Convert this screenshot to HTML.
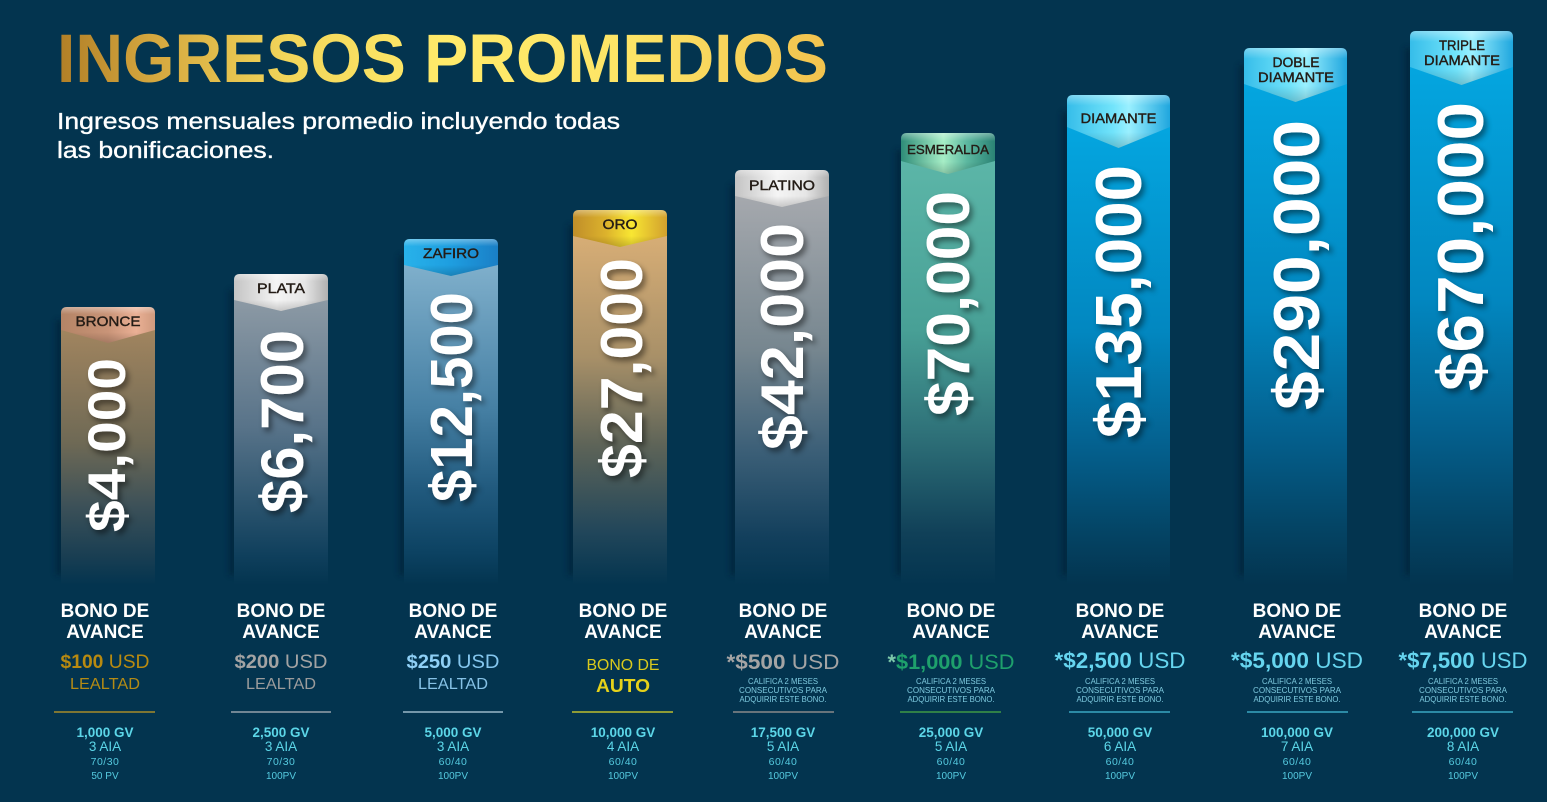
<!DOCTYPE html>
<html><head><meta charset="utf-8"><style>
html,body{margin:0;padding:0;background:#03344f;}
svg{display:block;}
text{font-family:"Liberation Sans",Arial,sans-serif;}
</style></head><body>
<svg width="1547" height="802" viewBox="0 0 1547 802" xmlns="http://www.w3.org/2000/svg">
<defs>
<linearGradient id="gold" gradientUnits="userSpaceOnUse" x1="57" y1="0" x2="828" y2="0">
<stop offset="0" stop-color="#b07e26"/><stop offset="0.12" stop-color="#d4a63e"/><stop offset="0.3" stop-color="#f2d65a"/><stop offset="0.5" stop-color="#ffea6a"/><stop offset="0.75" stop-color="#fde466"/><stop offset="1" stop-color="#f1c24e"/>
</linearGradient>
<filter id="sh" x="-30%" y="-30%" width="160%" height="160%"><feDropShadow dx="3" dy="4" stdDeviation="3" flood-color="#000" flood-opacity="0.45"/></filter>
<filter id="bl" x="-100%" y="-10%" width="300%" height="120%"><feGaussianBlur stdDeviation="3"/></filter>
<linearGradient id="gloss" x1="0" y1="0" x2="0" y2="1"><stop offset="0" stop-color="#fff" stop-opacity="0.35"/><stop offset="0.2" stop-color="#fff" stop-opacity="0"/><stop offset="0.7" stop-color="#000" stop-opacity="0"/><stop offset="1" stop-color="#000" stop-opacity="0.18"/></linearGradient>
<linearGradient id="b1" x1="0" y1="0" x2="0" y2="1"><stop offset="0" stop-color="#a2855f"/><stop offset="0.45" stop-color="#6e6955"/><stop offset="0.7" stop-color="#3b5058"/><stop offset="0.9" stop-color="#173d52"/><stop offset="1" stop-color="#03344f"/></linearGradient>
<linearGradient id="b2" x1="0" y1="0" x2="0" y2="1"><stop offset="0" stop-color="#8d9aa5"/><stop offset="0.45" stop-color="#587389"/><stop offset="0.7" stop-color="#2e5670"/><stop offset="0.9" stop-color="#0f3f5c"/><stop offset="1" stop-color="#03344f"/></linearGradient>
<linearGradient id="b3" x1="0" y1="0" x2="0" y2="1"><stop offset="0" stop-color="#80b0cc"/><stop offset="0.45" stop-color="#4680a4"/><stop offset="0.7" stop-color="#215a7e"/><stop offset="0.9" stop-color="#0c4262"/><stop offset="1" stop-color="#03344f"/></linearGradient>
<linearGradient id="b4" x1="0" y1="0" x2="0" y2="1"><stop offset="0" stop-color="#d8ae76"/><stop offset="0.35" stop-color="#a89068"/><stop offset="0.6" stop-color="#5e6458"/><stop offset="0.85" stop-color="#21465a"/><stop offset="1" stop-color="#03344f"/></linearGradient>
<linearGradient id="b5" x1="0" y1="0" x2="0" y2="1"><stop offset="0" stop-color="#a6a9ae"/><stop offset="0.4" stop-color="#76868f"/><stop offset="0.65" stop-color="#3d6078"/><stop offset="0.88" stop-color="#123f5c"/><stop offset="1" stop-color="#03344f"/></linearGradient>
<linearGradient id="b6" x1="0" y1="0" x2="0" y2="1"><stop offset="0" stop-color="#5cb6a8"/><stop offset="0.4" stop-color="#48a096"/><stop offset="0.65" stop-color="#2e7078"/><stop offset="0.88" stop-color="#104058"/><stop offset="1" stop-color="#03344f"/></linearGradient>
<linearGradient id="b7" x1="0" y1="0" x2="0" y2="1"><stop offset="0" stop-color="#04a6e0"/><stop offset="0.45" stop-color="#0287c0"/><stop offset="0.7" stop-color="#04608e"/><stop offset="0.88" stop-color="#044566"/><stop offset="1" stop-color="#03344f"/></linearGradient>
<linearGradient id="t1" x1="0" y1="0" x2="1" y2="0"><stop offset="0" stop-color="#b48466"/><stop offset="0.5" stop-color="#c99478"/><stop offset="0.8" stop-color="#eab095"/><stop offset="1" stop-color="#cf9a7e"/></linearGradient>
<linearGradient id="t2" x1="0" y1="0" x2="1" y2="0"><stop offset="0" stop-color="#c4c4c4"/><stop offset="0.45" stop-color="#f4f4f4"/><stop offset="0.75" stop-color="#e6e6e6"/><stop offset="1" stop-color="#b0b0b0"/></linearGradient>
<linearGradient id="t3" x1="0" y1="0" x2="1" y2="0"><stop offset="0" stop-color="#28b2ea"/><stop offset="0.5" stop-color="#1e9ee0"/><stop offset="1" stop-color="#1a7fc6"/></linearGradient>
<linearGradient id="t4" x1="0" y1="0" x2="1" y2="0"><stop offset="0" stop-color="#c08e2a"/><stop offset="0.35" stop-color="#dcb22c"/><stop offset="0.62" stop-color="#f8e632"/><stop offset="1" stop-color="#d2a02e"/></linearGradient>
<linearGradient id="t6" x1="0" y1="0" x2="1" y2="0"><stop offset="0" stop-color="#2e8c78"/><stop offset="0.45" stop-color="#a6eec6"/><stop offset="0.7" stop-color="#5cb8a0"/><stop offset="1" stop-color="#2a8274"/></linearGradient>
<linearGradient id="t7" x1="0" y1="0" x2="1" y2="0"><stop offset="0" stop-color="#36bde9"/><stop offset="0.45" stop-color="#72e4fb"/><stop offset="0.6" stop-color="#9af0ff"/><stop offset="1" stop-color="#1fa6de"/></linearGradient>
</defs>

<rect width="1547" height="802" fill="#03344f"/>

<text x="57" y="82" font-size="69" font-weight="bold" fill="url(#gold)" textLength="771" lengthAdjust="spacingAndGlyphs">INGRESOS PROMEDIOS</text>
<g fill="#ffffff" stroke="#ffffff" stroke-width="0.35">
<text x="57" y="129" font-size="23" textLength="563" lengthAdjust="spacingAndGlyphs">Ingresos mensuales promedio incluyendo todas</text>
<text x="57" y="158" font-size="23" textLength="217" lengthAdjust="spacingAndGlyphs">las bonificaciones.</text>
</g>

<g fill="#001f33" opacity="0.55" filter="url(#bl)">
<rect x="56" y="320" width="8" height="255"/>
<rect x="229" y="290" width="8" height="285"/>
<rect x="399" y="255" width="8" height="320"/>
<rect x="568" y="225" width="8" height="350"/>
<rect x="730" y="185" width="8" height="390"/>
<rect x="896" y="150" width="8" height="425"/>
<rect x="1062" y="112" width="8" height="463"/>
<rect x="1239" y="65" width="8" height="510"/>
<rect x="1405" y="48" width="8" height="527"/>
</g>

<rect x="61" y="328" width="94" height="257" fill="url(#b1)"/>
<rect x="234" y="298" width="94" height="287" fill="url(#b2)"/>
<rect x="404" y="263" width="94" height="322" fill="url(#b3)"/>
<rect x="573" y="234" width="94" height="351" fill="url(#b4)"/>
<rect x="735" y="194" width="94" height="391" fill="url(#b5)"/>
<rect x="901" y="159" width="94" height="426" fill="url(#b6)"/>
<rect x="1067" y="125" width="103" height="460" fill="url(#b7)"/>
<rect x="1244" y="82" width="103" height="503" fill="url(#b7)"/>
<rect x="1410" y="65" width="103" height="520" fill="url(#b7)"/>

<g>
<path d="M61,313 Q61,307 67,307 L149,307 Q155,307 155,313 L155,330 L108,343 L61,330 Z" fill="url(#t1)"/>
<path d="M61,313 Q61,307 67,307 L149,307 Q155,307 155,313 L155,330 L108,343 L61,330 Z" fill="url(#gloss)"/>
<path d="M234,280 Q234,274 240,274 L322,274 Q328,274 328,280 L328,300 L281,311 L234,300 Z" fill="url(#t2)"/>
<path d="M234,280 Q234,274 240,274 L322,274 Q328,274 328,280 L328,300 L281,311 L234,300 Z" fill="url(#gloss)"/>
<path d="M404,245 Q404,239 410,239 L492,239 Q498,239 498,245 L498,265 L451,276 L404,265 Z" fill="url(#t3)"/>
<path d="M404,245 Q404,239 410,239 L492,239 Q498,239 498,245 L498,265 L451,276 L404,265 Z" fill="url(#gloss)"/>
<path d="M573,216 Q573,210 579,210 L661,210 Q667,210 667,216 L667,236 L620,247 L573,236 Z" fill="url(#t4)"/>
<path d="M573,216 Q573,210 579,210 L661,210 Q667,210 667,216 L667,236 L620,247 L573,236 Z" fill="url(#gloss)"/>
<path d="M735,176 Q735,170 741,170 L823,170 Q829,170 829,176 L829,196 L782,207 L735,196 Z" fill="url(#t2)"/>
<path d="M735,176 Q735,170 741,170 L823,170 Q829,170 829,176 L829,196 L782,207 L735,196 Z" fill="url(#gloss)"/>
<path d="M901,139 Q901,133 907,133 L989,133 Q995,133 995,139 L995,161 L948,174 L901,161 Z" fill="url(#t6)"/>
<path d="M901,139 Q901,133 907,133 L989,133 Q995,133 995,139 L995,161 L948,174 L901,161 Z" fill="url(#gloss)"/>
<path d="M1067,101 Q1067,95 1073,95 L1164,95 Q1170,95 1170,101 L1170,127 L1118.5,148 L1067,127 Z" fill="url(#t7)"/>
<path d="M1067,101 Q1067,95 1073,95 L1164,95 Q1170,95 1170,101 L1170,127 L1118.5,148 L1067,127 Z" fill="url(#gloss)"/>
<path d="M1244,54 Q1244,48 1250,48 L1341,48 Q1347,48 1347,54 L1347,84 L1295.5,102 L1244,84 Z" fill="url(#t7)"/>
<path d="M1244,54 Q1244,48 1250,48 L1341,48 Q1347,48 1347,54 L1347,84 L1295.5,102 L1244,84 Z" fill="url(#gloss)"/>
<path d="M1410,37 Q1410,31 1416,31 L1507,31 Q1513,31 1513,37 L1513,67 L1461.5,85 L1410,67 Z" fill="url(#t7)"/>
<path d="M1410,37 Q1410,31 1416,31 L1507,31 Q1513,31 1513,37 L1513,67 L1461.5,85 L1410,67 Z" fill="url(#gloss)"/>
</g>

<g font-size="14" fill="#241c16" stroke="#241c16" stroke-width="0.4" text-anchor="middle">
<text x="108" y="326" textLength="65" lengthAdjust="spacingAndGlyphs">BRONCE</text>
<text x="281" y="293" textLength="48" lengthAdjust="spacingAndGlyphs">PLATA</text>
<text x="451" y="258" textLength="56" lengthAdjust="spacingAndGlyphs">ZAFIRO</text>
<text x="620" y="229" textLength="35" lengthAdjust="spacingAndGlyphs">ORO</text>
<text x="782" y="190" textLength="66" lengthAdjust="spacingAndGlyphs">PLATINO</text>
<text x="948" y="154" font-size="13" textLength="82" lengthAdjust="spacingAndGlyphs">ESMERALDA</text>
<text x="1118.5" y="123" textLength="76" lengthAdjust="spacingAndGlyphs">DIAMANTE</text>
<text x="1296" y="67" textLength="47" lengthAdjust="spacingAndGlyphs">DOBLE</text>
<text x="1296" y="82" textLength="76" lengthAdjust="spacingAndGlyphs">DIAMANTE</text>
<text x="1462" y="50" textLength="46" lengthAdjust="spacingAndGlyphs">TRIPLE</text>
<text x="1462" y="65" textLength="76" lengthAdjust="spacingAndGlyphs">DIAMANTE</text>
</g>

<g fill="#ffffff" font-weight="bold" filter="url(#sh)">
<text transform="translate(125,532) rotate(-90)" font-size="53" textLength="174" lengthAdjust="spacingAndGlyphs">$4,000</text>
<text transform="translate(303,513) rotate(-90)" font-size="60" textLength="183" lengthAdjust="spacingAndGlyphs">$6,700</text>
<text transform="translate(472,502) rotate(-90)" font-size="59" textLength="210" lengthAdjust="spacingAndGlyphs">$12,500</text>
<text transform="translate(642,478) rotate(-90)" font-size="59" textLength="220" lengthAdjust="spacingAndGlyphs">$27,000</text>
<text transform="translate(803,450) rotate(-90)" font-size="60" textLength="227" lengthAdjust="spacingAndGlyphs">$42,000</text>
<text transform="translate(969,416) rotate(-90)" font-size="60" textLength="225" lengthAdjust="spacingAndGlyphs">$70,000</text>
<text transform="translate(1141,438) rotate(-90)" font-size="65" textLength="273" lengthAdjust="spacingAndGlyphs">$135,000</text>
<text transform="translate(1319,410) rotate(-90)" font-size="65" textLength="290" lengthAdjust="spacingAndGlyphs">$290,000</text>
<text transform="translate(1483,391) rotate(-90)" font-size="65" textLength="289" lengthAdjust="spacingAndGlyphs">$670,000</text>
</g>

<g font-size="19" font-weight="bold" fill="#ffffff" text-anchor="middle">
<text x="105" y="617">BONO DE</text><text x="105" y="638">AVANCE</text>
<text x="281" y="617">BONO DE</text><text x="281" y="638">AVANCE</text>
<text x="453" y="617">BONO DE</text><text x="453" y="638">AVANCE</text>
<text x="623" y="617">BONO DE</text><text x="623" y="638">AVANCE</text>
<text x="783" y="617">BONO DE</text><text x="783" y="638">AVANCE</text>
<text x="951" y="617">BONO DE</text><text x="951" y="638">AVANCE</text>
<text x="1120" y="617">BONO DE</text><text x="1120" y="638">AVANCE</text>
<text x="1297" y="617">BONO DE</text><text x="1297" y="638">AVANCE</text>
<text x="1463" y="617">BONO DE</text><text x="1463" y="638">AVANCE</text>
</g>

<g text-anchor="middle" font-size="19">
<text x="105" y="668" fill="#b88a10" textLength="89" lengthAdjust="spacingAndGlyphs"><tspan font-weight="bold">$100</tspan> USD</text>
<text x="105" y="689" fill="#b48b14" font-size="16" textLength="70" lengthAdjust="spacingAndGlyphs">LEALTAD</text>
<text x="281" y="668" fill="#a3a3a3" textLength="93" lengthAdjust="spacingAndGlyphs"><tspan font-weight="bold">$200</tspan> USD</text>
<text x="281" y="689" fill="#9c9c9c" font-size="16" textLength="70" lengthAdjust="spacingAndGlyphs">LEALTAD</text>
<text x="453" y="668" fill="#84c6ee" textLength="93" lengthAdjust="spacingAndGlyphs"><tspan font-weight="bold" fill="#8fd0f6">$250</tspan> USD</text>
<text x="453" y="689" fill="#86c2e6" font-size="16" textLength="70" lengthAdjust="spacingAndGlyphs">LEALTAD</text>
<text x="623" y="670" fill="#dac91c" font-size="16" textLength="73" lengthAdjust="spacingAndGlyphs">BONO DE</text>
<text x="623" y="692" fill="#e6d21a" font-size="18" font-weight="bold" textLength="54" lengthAdjust="spacingAndGlyphs">AUTO</text>
<text x="783" y="669" fill="#a4a4a4" font-size="21" textLength="113" lengthAdjust="spacingAndGlyphs"><tspan font-weight="bold">*$500</tspan> USD</text>
<text x="951" y="669" fill="#1ea06c" font-size="21" textLength="127" lengthAdjust="spacingAndGlyphs"><tspan font-weight="bold" fill="#7cc8aa">*</tspan><tspan font-weight="bold">$1,000</tspan> USD</text>
<text x="1120" y="668" fill="#66d5ef" font-size="22" textLength="131" lengthAdjust="spacingAndGlyphs"><tspan font-weight="bold">*$2,500</tspan> USD</text>
<text x="1297" y="668" fill="#66d5ef" font-size="22" textLength="132" lengthAdjust="spacingAndGlyphs"><tspan font-weight="bold">*$5,000</tspan> USD</text>
<text x="1463" y="668" fill="#66d5ef" font-size="22" textLength="129" lengthAdjust="spacingAndGlyphs"><tspan font-weight="bold">*$7,500</tspan> USD</text>
</g>

<g text-anchor="middle" font-size="8" fill="#7fcbe0">
<text x="783" y="684" textLength="70" lengthAdjust="spacingAndGlyphs">CALIFICA 2 MESES</text>
<text x="783" y="693" textLength="88" lengthAdjust="spacingAndGlyphs">CONSECUTIVOS PARA</text>
<text x="783" y="702" textLength="87" lengthAdjust="spacingAndGlyphs">ADQUIRIR ESTE BONO.</text>
<text x="951" y="684" textLength="70" lengthAdjust="spacingAndGlyphs">CALIFICA 2 MESES</text>
<text x="951" y="693" textLength="88" lengthAdjust="spacingAndGlyphs">CONSECUTIVOS PARA</text>
<text x="951" y="702" textLength="87" lengthAdjust="spacingAndGlyphs">ADQUIRIR ESTE BONO.</text>
<text x="1120" y="684" textLength="70" lengthAdjust="spacingAndGlyphs">CALIFICA 2 MESES</text>
<text x="1120" y="693" textLength="88" lengthAdjust="spacingAndGlyphs">CONSECUTIVOS PARA</text>
<text x="1120" y="702" textLength="87" lengthAdjust="spacingAndGlyphs">ADQUIRIR ESTE BONO.</text>
<text x="1297" y="684" textLength="70" lengthAdjust="spacingAndGlyphs">CALIFICA 2 MESES</text>
<text x="1297" y="693" textLength="88" lengthAdjust="spacingAndGlyphs">CONSECUTIVOS PARA</text>
<text x="1297" y="702" textLength="87" lengthAdjust="spacingAndGlyphs">ADQUIRIR ESTE BONO.</text>
<text x="1463" y="684" textLength="70" lengthAdjust="spacingAndGlyphs">CALIFICA 2 MESES</text>
<text x="1463" y="693" textLength="88" lengthAdjust="spacingAndGlyphs">CONSECUTIVOS PARA</text>
<text x="1463" y="702" textLength="87" lengthAdjust="spacingAndGlyphs">ADQUIRIR ESTE BONO.</text>
</g>

<g stroke-width="1.5">
<line x1="54" y1="712" x2="155" y2="712" stroke="#a88c2a"/>
<line x1="231" y1="712" x2="331" y2="712" stroke="#96a2ac"/>
<line x1="403" y1="712" x2="503" y2="712" stroke="#9ab8c8"/>
<line x1="572" y1="712" x2="673" y2="712" stroke="#bdbd2e"/>
<line x1="733" y1="712" x2="834" y2="712" stroke="#8a8a8a"/>
<line x1="900" y1="712" x2="1001" y2="712" stroke="#3f9a45"/>
<line x1="1069" y1="712" x2="1170" y2="712" stroke="#3aa7c2"/>
<line x1="1247" y1="712" x2="1348" y2="712" stroke="#3aa7c2"/>
<line x1="1412" y1="712" x2="1513" y2="712" stroke="#3aa7c2"/>
</g>

<g text-anchor="middle" fill="#5cd6e8">
<g font-size="13.5" font-weight="bold">
<text x="105" y="737">1,000 GV</text>
<text x="281" y="737">2,500 GV</text>
<text x="453" y="737">5,000 GV</text>
<text x="623" y="737">10,000 GV</text>
<text x="783" y="737">17,500 GV</text>
<text x="951" y="737">25,000 GV</text>
<text x="1120" y="737">50,000 GV</text>
<text x="1297" y="737">100,000 GV</text>
<text x="1463" y="737">200,000 GV</text>
</g>
<g font-size="13.5">
<text x="105" y="751">3 AIA</text>
<text x="281" y="751">3 AIA</text>
<text x="453" y="751">3 AIA</text>
<text x="623" y="751">4 AIA</text>
<text x="783" y="751">5 AIA</text>
<text x="951" y="751">5 AIA</text>
<text x="1120" y="751">6 AIA</text>
<text x="1297" y="751">7 AIA</text>
<text x="1463" y="751">8 AIA</text>
</g>
<g font-size="10.5" fill="#55cadf" letter-spacing="0.5">
<text x="105" y="765">70/30</text>
<text x="281" y="765">70/30</text>
<text x="453" y="765">60/40</text>
<text x="623" y="765">60/40</text>
<text x="783" y="765">60/40</text>
<text x="951" y="765">60/40</text>
<text x="1120" y="765">60/40</text>
<text x="1297" y="765">60/40</text>
<text x="1463" y="765">60/40</text>
</g>
<g font-size="10" fill="#55cadf">
<text x="105" y="779">50 PV</text>
<text x="281" y="779">100PV</text>
<text x="453" y="779">100PV</text>
<text x="623" y="779">100PV</text>
<text x="783" y="779">100PV</text>
<text x="951" y="779">100PV</text>
<text x="1120" y="779">100PV</text>
<text x="1297" y="779">100PV</text>
<text x="1463" y="779">100PV</text>
</g>
</g>
</svg>
</body></html>
